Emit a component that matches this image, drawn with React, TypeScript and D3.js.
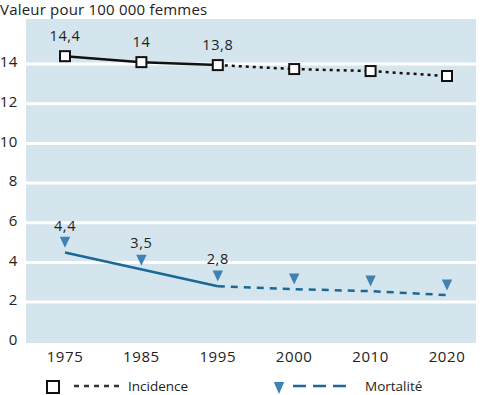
import { useEffect, useRef } from 'react';
import * as d3 from 'd3';

const years = ['1975', '1985', '1995', '2000', '2010', '2020'];
const incidence = [14.4, 14.1, 13.95, 13.75, 13.65, 13.4];
const mortalite = [4.5, 3.6, 2.8, 2.65, 2.55, 2.35];
const incidenceLabels = ['14,4', '14', '13,8'];
const mortaliteLabels = ['4,4', '3,5', '2,8'];
const yTicks = [0, 2, 4, 6, 8, 10, 12, 14];

const App = () => {
  const svgRef = useRef<SVGSVGElement>(null);

  useEffect(() => {
    const width = 482;
    const height = 395;
    const font = '"Open Sans", "Noto Sans", sans-serif';
    const blueLine = '#1b6797';
    const blueMarker = '#3f82b3';

    const svg = d3.select(svgRef.current)
      .attr('width', width)
      .attr('height', height)
      .style('font-family', font);

    svg.selectAll('*').remove();

    const plot = { left: 26, right: 476, top: 19, bottom: 343 };

    const x = d3.scalePoint<string>()
      .domain(years)
      .range([65, 447]);

    const y = d3.scaleLinear()
      .domain([0, 16.25])
      .range([341.7, 19.5]);

    // background
    svg.append('rect')
      .attr('x', plot.left)
      .attr('y', plot.top)
      .attr('width', plot.right - plot.left)
      .attr('height', plot.bottom - plot.top)
      .attr('fill', '#d5e5ee');

    // gridlines
    svg.selectAll('line.grid')
      .data(yTicks.filter(d => d > 0))
      .enter()
      .append('line')
      .attr('class', 'grid')
      .attr('x1', plot.left)
      .attr('x2', plot.right)
      .attr('y1', d => y(d))
      .attr('y2', d => y(d))
      .attr('stroke', '#fff')
      .attr('stroke-width', 3);

    // y labels
    svg.selectAll('text.ytick')
      .data(yTicks)
      .enter()
      .append('text')
      .attr('class', 'ytick')
      .attr('x', 18)
      .attr('y', d => y(d) - 2)
      .attr('dy', '0.35em')
      .attr('text-anchor', 'end')
      .attr('font-size', 15)
      .attr('letter-spacing', 0.6)
      .attr('fill', '#222')
      .text(d => d);

    // x labels
    svg.selectAll('text.xtick')
      .data(years)
      .enter()
      .append('text')
      .attr('class', 'xtick')
      .attr('x', d => x(d)!)
      .attr('y', 362)
      .attr('text-anchor', 'middle')
      .attr('font-size', 15)
      .attr('letter-spacing', 0.6)
      .attr('fill', '#222')
      .text(d => d);

    // title
    svg.append('text')
      .attr('x', 0)
      .attr('y', 15)
      .attr('font-size', 15)
      .attr('letter-spacing', 0.2)
      .attr('fill', '#222')
      .text('Valeur pour 100 000 femmes');

    const lineIdx = d3.line<{ v: number; i: number }>()
      .x(d => x(years[d.i])!)
      .y(d => y(d.v));

    // incidence: solid up to 1995, dotted afterwards
    const incPts = incidence.map((v, i) => ({ v, i }));
    svg.append('path')
      .attr('d', lineIdx(incPts.slice(0, 3)))
      .attr('fill', 'none')
      .attr('stroke', '#111')
      .attr('stroke-width', 2.5);

    svg.append('path')
      .attr('d', lineIdx(incPts.slice(2)))
      .attr('fill', 'none')
      .attr('stroke', '#111')
      .attr('stroke-width', 2.5)
      .attr('stroke-dasharray', '3,4');

    // mortalite: solid up to 1995 (straight), dashed afterwards
    const mortPts = mortalite.map((v, i) => ({ v, i }));
    svg.append('path')
      .attr('d', lineIdx([mortPts[0], mortPts[2]]))
      .attr('fill', 'none')
      .attr('stroke', blueLine)
      .attr('stroke-width', 2.5);

    svg.append('path')
      .attr('d', lineIdx(mortPts.slice(2)))
      .attr('fill', 'none')
      .attr('stroke', blueLine)
      .attr('stroke-width', 2.5)
      .attr('stroke-dasharray', '7,6');

    // incidence markers
    svg.selectAll('rect.inc')
      .data(incidence)
      .enter()
      .append('rect')
      .attr('class', 'inc')
      .attr('x', (_, i) => x(years[i])! - 5)
      .attr('y', d => y(d) - 5)
      .attr('width', 10)
      .attr('height', 10)
      .attr('fill', '#fff')
      .attr('stroke', '#111')
      .attr('stroke-width', 2);

    // mortalite markers (down triangles, above the line)
    const tri = d3.symbol().type(d3.symbolTriangle).size(58);
    svg.selectAll('path.mort')
      .data(mortalite)
      .enter()
      .append('path')
      .attr('class', 'mort')
      .attr('d', tri)
      .attr('transform', (d, i) => `translate(${x(years[i])}, ${y(d) - 12}) rotate(180) scale(0.9,1.1)`)
      .attr('fill', blueMarker);

    // value labels
    svg.selectAll('text.incLab')
      .data(incidenceLabels)
      .enter()
      .append('text')
      .attr('class', 'incLab')
      .attr('x', (_, i) => x(years[i])!)
      .attr('y', (_, i) => y(incidence[i]) - 20)
      .attr('dy', '0.35em')
      .attr('text-anchor', 'middle')
      .attr('font-size', 14.5)
      .attr('letter-spacing', 0.6)
      .attr('fill', '#222')
      .text(d => d);

    svg.selectAll('text.mortLab')
      .data(mortaliteLabels)
      .enter()
      .append('text')
      .attr('class', 'mortLab')
      .attr('x', (_, i) => x(years[i])!)
      .attr('y', (_, i) => y(mortalite[i]) - 27)
      .attr('dy', '0.35em')
      .attr('text-anchor', 'middle')
      .attr('font-size', 14.5)
      .attr('letter-spacing', 0.6)
      .attr('fill', '#222')
      .text(d => d);

    // legend
    const legY = 387;
    svg.append('rect')
      .attr('x', 47)
      .attr('y', legY - 6)
      .attr('width', 12)
      .attr('height', 12)
      .attr('fill', '#fff')
      .attr('stroke', '#111')
      .attr('stroke-width', 2);
    svg.append('line')
      .attr('x1', 74).attr('x2', 120)
      .attr('y1', legY - 1).attr('y2', legY - 1)
      .attr('stroke', '#333')
      .attr('stroke-width', 2.5)
      .attr('stroke-dasharray', '5,5');
    svg.append('text')
      .attr('x', 128)
      .attr('y', legY - 1)
      .attr('dy', '0.35em')
      .attr('font-size', 13.5)
      .attr('fill', '#222')
      .text('Incidence');

    svg.append('path')
      .attr('d', tri)
      .attr('transform', `translate(279, ${legY - 1}) rotate(180) scale(0.9,1.2)`)
      .attr('fill', blueMarker);
    svg.append('line')
      .attr('x1', 293).attr('x2', 352)
      .attr('y1', legY - 1).attr('y2', legY - 1)
      .attr('stroke', blueLine)
      .attr('stroke-width', 2.5)
      .attr('stroke-dasharray', '13,7');
    svg.append('text')
      .attr('x', 365)
      .attr('y', legY - 1)
      .attr('dy', '0.35em')
      .attr('font-size', 13.5)
      .attr('fill', '#222')
      .text('Mortalité');
  }, []);

  return <svg ref={svgRef} style={{ position: 'absolute', left: 0, top: 0 }}></svg>;
};

export default App;
